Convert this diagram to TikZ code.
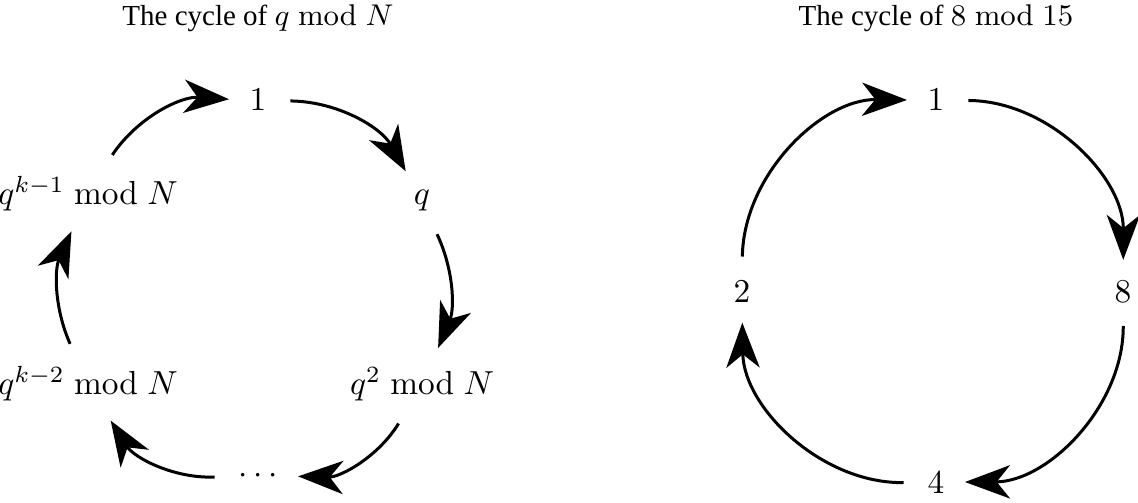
\documentclass[tikz,border=0pt]{standalone}
\usepackage[no-math]{fontspec}
\setmainfont{Liberation Serif}
\usetikzlibrary{arrows.meta}
\begin{document}
\begin{tikzpicture}[x=0.3pt,y=0.3pt,
  lbl/.style={anchor=base,inner sep=3pt},
  ttl/.style={anchor=base,inner sep=0pt,font=\fontsize{8.7}{11}\selectfont},
  cyc/.style={-{Stealth[length=13.5pt,width=10pt,inset=4pt]},line width=0.9pt,shorten <=4pt,shorten >=3pt}]
\useasboundingbox (0,0) rectangle (1138,502);
% left cycle
\node[ttl] (t1) at (258,476) {The cycle of $q \bmod N$};
\node[lbl] (l1) at (258,391) {$1$};
\node[lbl] (lq) at (422,297) {$q$};
\node[lbl] (lq2) at (422,107) {$q^2 \bmod N$};
\node[lbl] (ld) at (258,19) {$\cdots$};
\node[lbl] (lk2) at (88,107) {$q^{k-2} \bmod N$};
\node[lbl] (lk1) at (88,297) {$q^{k-1} \bmod N$};
\draw[cyc] (l1) to[bend left=30] (lq);
\draw[cyc] (lq) to[bend left=24] (lq2);
\draw[cyc] (lq2) to[bend left=30] (ld);
\draw[cyc] (ld) to[bend left=30] (lk2);
\draw[cyc] (lk2) to[bend left=24] (lk1);
\draw[cyc] (lk1) to[bend left=30] (l1);
% right cycle
\node[ttl] (t2) at (936,476) {The cycle of $8 \bmod 15$};
\node[lbl] (r1) at (936,391) {$1$};
\node[lbl] (r8) at (1123,200) {$8$};
\node[lbl] (r4) at (936,9) {$4$};
\node[lbl] (r2) at (742,200) {$2$};
\draw[cyc] (r1) to[bend left=45] (r8);
\draw[cyc] (r8) to[bend left=45] (r4);
\draw[cyc] (r4) to[bend left=45] (r2);
\draw[cyc] (r2) to[bend left=45] (r1);
\end{tikzpicture}
\end{document}
